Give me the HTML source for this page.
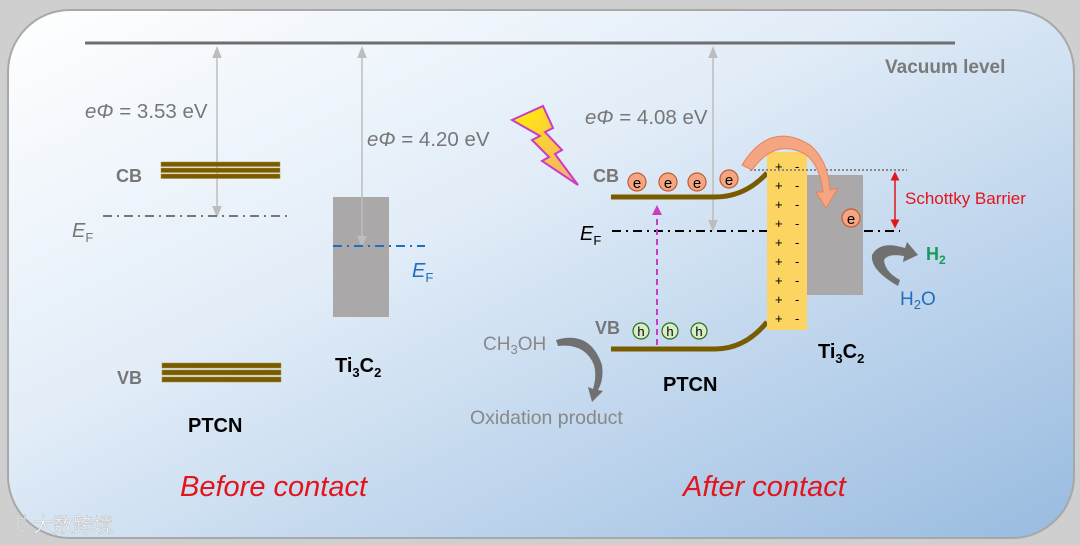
<!DOCTYPE html>
<html><head><meta charset="utf-8"><style>
html,body{margin:0;padding:0;width:1080px;height:545px;overflow:hidden;background:#d4d4d4}
svg{display:block}
text{font-family:"Liberation Sans",Arial,sans-serif}
</style></head><body>
<svg width="1080" height="545" viewBox="0 0 1080 545" xmlns="http://www.w3.org/2000/svg">
<defs>
<linearGradient id="bg" x1="0" y1="0" x2="1" y2="1">
<stop offset="0" stop-color="#ffffff"/><stop offset="0.4" stop-color="#e2edf8"/><stop offset="1" stop-color="#98bbe0"/>
</linearGradient>
<linearGradient id="lt" x1="0" y1="0" x2="1" y2="1"><stop offset="0" stop-color="#fff200"/><stop offset="1" stop-color="#f7a77a"/></linearGradient>
<marker id="ga" viewBox="0 0 10 10" refX="5" refY="5" markerWidth="8" markerHeight="8" orient="auto-start-reverse"><path d="M0,1 L10,5 L0,9 z" fill="#bdbdbd"/></marker>
<marker id="ra" viewBox="0 0 10 10" refX="5" refY="5" markerWidth="6" markerHeight="6" orient="auto-start-reverse"><path d="M0,0 L10,5 L0,10 z" fill="#e3141b"/></marker>
<marker id="ma" viewBox="0 0 10 10" refX="5" refY="5" markerWidth="5" markerHeight="5" orient="auto"><path d="M0,0 L10,5 L0,10 z" fill="#c93cc6"/></marker>
</defs>
<rect x="0" y="0" width="1080" height="545" fill="#cfcfcf"/>
<rect x="8" y="10" width="1066" height="528" rx="62" fill="url(#bg)" stroke="#a8a8a8" stroke-width="2"/>
<line x1="85" y1="43" x2="955" y2="43" stroke="#6e6e6e" stroke-width="3"/>
<text x="885" y="73" font-size="19" font-weight="bold" fill="#7a7a7a">Vacuum level</text>
<!-- left -->
<line x1="217" y1="52" x2="217" y2="212" stroke="#bdbdbd" stroke-width="1.5" marker-start="url(#ga)" marker-end="url(#ga)"/>
<text x="85" y="118" font-size="20.5" fill="#777"><tspan font-style="italic">eΦ</tspan> = 3.53 eV</text>
<g fill="#7a5c00" stroke="#a88a30" stroke-width="0.5">
<rect x="161" y="162" width="119" height="4.5"/><rect x="161" y="168" width="119" height="4.5"/><rect x="161" y="174" width="119" height="4.5"/>
<rect x="162" y="363" width="119" height="5"/><rect x="162" y="370" width="119" height="5"/><rect x="162" y="377" width="119" height="5"/>
</g>
<text x="116" y="182" font-size="18" font-weight="bold" fill="#777">CB</text>
<text x="117" y="384" font-size="18" font-weight="bold" fill="#777">VB</text>
<line x1="103" y1="216" x2="290" y2="216" stroke="#777" stroke-width="2" stroke-dasharray="9,5,2,5"/>
<text x="72" y="237" font-size="20" font-style="italic" fill="#777">E<tspan font-size="13" dy="5" font-style="normal">F</tspan></text>
<rect x="333" y="197" width="56" height="120" fill="#aaa8a8"/>
<line x1="362" y1="52" x2="362" y2="242" stroke="#bdbdbd" stroke-width="1.5" marker-start="url(#ga)" marker-end="url(#ga)"/>
<line x1="333" y1="246" x2="425" y2="246" stroke="#1f6fbf" stroke-width="2" stroke-dasharray="9,5,2,5"/>
<text x="412" y="277" font-size="20" font-style="italic" fill="#1f6fbf">E<tspan font-size="13" dy="5" font-style="normal">F</tspan></text>
<text x="367" y="146" font-size="20.5" fill="#777"><tspan font-style="italic">eΦ</tspan> = 4.20 eV</text>
<text x="335" y="372" font-size="20" font-weight="bold" fill="#000">Ti<tspan font-size="13" dy="5">3</tspan><tspan dy="-5">C</tspan><tspan font-size="13" dy="5">2</tspan></text>
<text x="188" y="432" font-size="20" font-weight="bold" fill="#000">PTCN</text>
<text x="180" y="496" font-size="29" font-style="italic" fill="#e3141b">Before contact</text>
<!-- right -->
<line x1="713" y1="52" x2="713" y2="226" stroke="#bdbdbd" stroke-width="1.5" marker-start="url(#ga)" marker-end="url(#ga)"/>
<text x="585" y="124" font-size="20.5" fill="#777"><tspan font-style="italic">eΦ</tspan> = 4.08 eV</text>
<path d="M512,120 L543,106 L553,128 L545,132 L562,150 L555,154 L578,185 L542,161 L549,157 L532,140 L540,136 Z" fill="url(#lt)" stroke="#c93cc6" stroke-width="2"/>
<text x="593" y="182" font-size="18" font-weight="bold" fill="#777">CB</text>
<text x="595" y="334" font-size="18" font-weight="bold" fill="#777">VB</text>
<path d="M611,197 L715,197 Q745,197 767,173" fill="none" stroke="#7a5c00" stroke-width="5"/>
<path d="M611,349 L715,349 Q745,349 767,322" fill="none" stroke="#7a5c00" stroke-width="5"/>
<line x1="612" y1="231" x2="900" y2="231" stroke="#000" stroke-width="2" stroke-dasharray="9,5,2,5"/>
<text x="580" y="240" font-size="20" font-style="italic" fill="#000">E<tspan font-size="13" dy="5" font-style="normal">F</tspan></text>
<rect x="807" y="175" width="56" height="120" fill="#aaa8a8"/>
<rect x="767" y="152" width="40" height="178" fill="#fcd462"/>
<g font-size="13" fill="#000">
<text x="775" y="171">+</text><text x="795" y="171">-</text>
<text x="775" y="190">+</text><text x="795" y="190">-</text>
<text x="775" y="209">+</text><text x="795" y="209">-</text>
<text x="775" y="228">+</text><text x="795" y="228">-</text>
<text x="775" y="247">+</text><text x="795" y="247">-</text>
<text x="775" y="266">+</text><text x="795" y="266">-</text>
<text x="775" y="285">+</text><text x="795" y="285">-</text>
<text x="775" y="304">+</text><text x="795" y="304">-</text>
<text x="775" y="323">+</text><text x="795" y="323">-</text>
</g>
<line x1="750" y1="170" x2="907" y2="170" stroke="#888" stroke-width="2" stroke-dasharray="2,2"/>
<line x1="895" y1="176" x2="895" y2="224" stroke="#e3141b" stroke-width="1.5" marker-start="url(#ra)" marker-end="url(#ra)"/>
<text x="905" y="204" font-size="17" fill="#e3141b">Schottky Barrier</text>
<path d="M742,165 Q770,120 810,145 Q828,160 830,190 L838,188 L826,208 L816,192 L823,192 Q820,165 805,154 Q775,138 752,170 Z" fill="#f4a582" stroke="#e8835a" stroke-width="1"/>
<g stroke="#c25a2e" stroke-width="1.2" fill="#f4a582">
<circle cx="637" cy="182" r="9"/><circle cx="668" cy="182" r="9"/><circle cx="697" cy="182" r="9"/><circle cx="729" cy="179" r="9"/><circle cx="851" cy="218" r="9"/>
</g>
<g font-size="15" fill="#000" text-anchor="middle">
<text x="637" y="188">e</text><text x="668" y="188">e</text><text x="697" y="188">e</text><text x="729" y="185">e</text><text x="851" y="224">e</text>
</g>
<g stroke="#2e6b1a" stroke-width="1.2" fill="#d8eec8">
<circle cx="641" cy="331" r="8"/><circle cx="670" cy="331" r="8"/><circle cx="699" cy="331" r="8"/>
</g>
<g font-size="13" fill="#000" text-anchor="middle">
<text x="641" y="336">h</text><text x="670" y="336">h</text><text x="699" y="336">h</text>
</g>
<line x1="657" y1="345" x2="657" y2="210" stroke="#c93cc6" stroke-width="2" stroke-dasharray="6,4" marker-end="url(#ma)"/>
<path d="M898,286 Q870,270 872,255 Q880,240 905,248 L907,242 L918,255 L903,262 L904,256 Q888,253 884,260 Q885,272 900,280 Z" fill="#707070"/>
<text x="926" y="260" font-size="18" font-weight="bold" fill="#1a9a5a">H<tspan font-size="12" dy="4">2</tspan></text>
<text x="900" y="305" font-size="19" fill="#1f6fbf">H<tspan font-size="13" dy="4">2</tspan><tspan dy="-4">O</tspan></text>
<path d="M556,340 Q590,330 602,365 Q604,380 598,390 L603,391 L592,402 L588,387 L593,389 Q597,376 594,365 Q585,343 558,346 Z" fill="#707070"/>
<text x="483" y="350" font-size="19" fill="#888">CH<tspan font-size="13" dy="4">3</tspan><tspan dy="-4">OH</tspan></text>
<text x="470" y="424" font-size="19.5" fill="#888">Oxidation product</text>
<text x="818" y="358" font-size="20" font-weight="bold" fill="#000">Ti<tspan font-size="13" dy="5">3</tspan><tspan dy="-5">C</tspan><tspan font-size="13" dy="5">2</tspan></text>
<text x="663" y="391" font-size="20" font-weight="bold" fill="#000">PTCN</text>
<text x="683" y="496" font-size="29" font-style="italic" fill="#e3141b">After contact</text>
<text x="12" y="532" font-size="20" fill="#ffffff" fill-opacity="0.85" stroke="#bbb" stroke-width="0.5" style="font-family:'Liberation Sans','Noto Sans CJK SC',sans-serif">ꀀ 大数跨境</text>
</svg>
</body></html>
